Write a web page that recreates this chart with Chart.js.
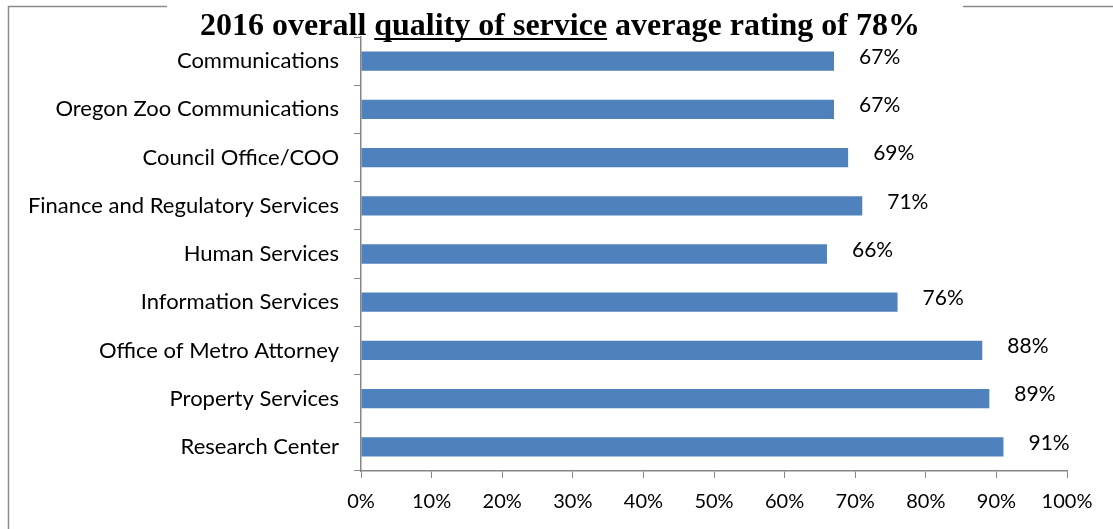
<!DOCTYPE html>
<html>
<head>
<meta charset="utf-8">
<script src="https://cdn.jsdelivr.net/npm/chart.js@4/dist/chart.umd.min.js"></script>
<style>
  html, body { margin: 0; padding: 0; background: #fff; }
  #wrap { width: 1113px; height: 529px; position: relative; }
</style>
</head>
<body>
<div id="wrap"><canvas id="chart" width="1113" height="529"></canvas></div>
<script>
const departments = [
    "Communications",
    "Oregon Zoo Communications",
    "Council Office/COO",
    "Finance and Regulatory Services",
    "Human Services",
    "Information Services",
    "Office of Metro Attorney",
    "Property Services",
    "Research Center",
];
const ratings = [67, 67, 69, 71, 66, 76, 88, 89, 91];
const xTicks = [0, 10, 20, 30, 40, 50, 60, 70, 80, 90, 100];
const titleParts = ["2016 overall ", "quality of service", " average rating of 78%"];

const AXIS_GRAY = "#868686";
const LABEL_FONT = "Lato, 'Open Sans', sans-serif";
const TITLE_FONT = "'Liberation Serif', serif";
const TITLE_WIDTH = 720;

// title with the middle phrase underlined, plus the frame lines beside it
const titlePlugin = {
    id: "titleFrame",
    afterDraw(chart) {
        const ctx = chart.ctx;
        ctx.save();
        ctx.strokeStyle = "#8c8c8c";
        ctx.lineWidth = 1.5;
        ctx.beginPath();
        ctx.moveTo(8.5, 529);
        ctx.lineTo(8.5, 6.5);
        ctx.lineTo(167, 6.5);
        ctx.moveTo(963, 6.5);
        ctx.lineTo(1113, 6.5);
        ctx.stroke();

        // size the title so the whole line spans TITLE_WIDTH
        ctx.font = "bold 20px " + TITLE_FONT;
        const base = titleParts.reduce((s, t) => s + ctx.measureText(t).width, 0);
        const size = 20 * TITLE_WIDTH / base;
        ctx.font = "bold " + size.toFixed(2) + "px " + TITLE_FONT;
        ctx.fillStyle = "#000";
        ctx.textBaseline = "alphabetic";
        const widths = titleParts.map(t => ctx.measureText(t).width);
        const total = widths.reduce((a, b) => a + b, 0);
        let x = 560 - total / 2;
        const y = 35;
        titleParts.forEach((t, i) => {
            ctx.fillText(t, x, y);
            if (i === 1) {
                ctx.fillRect(x, y + 3, widths[i], 2);
            }
            x += widths[i];
        });
        ctx.restore();
    },
};

// percentage labels to the right of each bar
const valueLabels = {
    id: "valueLabels",
    afterDatasetsDraw(chart) {
        const ctx = chart.ctx;
        const meta = chart.getDatasetMeta(0);
        ctx.save();
        ctx.font = "21px " + LABEL_FONT;
        ctx.fillStyle = "#000";
        ctx.textBaseline = "middle";
        ctx.textAlign = "left";
        meta.data.forEach((bar, i) => {
            ctx.fillText(ratings[i] + "%", bar.x + 25, bar.y - 4);
        });
        ctx.restore();
    },
};

const ctx = document.getElementById("chart").getContext("2d");
new Chart(ctx, {
    type: "bar",
    data: {
        labels: departments,
        datasets: [{
            data: ratings,
            backgroundColor: "#4F81BD",
            barPercentage: 0.4,
            categoryPercentage: 1,
        }],
    },
    options: {
        indexAxis: "y",
        responsive: false,
        animation: false,
        layout: { padding: { top: 37, right: 46, bottom: 0, left: 0 } },
        plugins: {
            legend: { display: false },
            title: { display: false },
            tooltip: { enabled: false },
        },
        scales: {
            x: {
                min: 0,
                max: 100,
                afterFit: (scale) => { scale.height = 58; },
                afterBuildTicks: (scale) => {
                    scale.ticks = xTicks.map(v => ({ value: v }));
                },
                ticks: {
                    callback: (v) => v + "%",
                    color: "#000",
                    font: { family: LABEL_FONT, size: 20 },
                    padding: 12,
                    maxRotation: 0,
                },
                grid: {
                    drawOnChartArea: false,
                    color: AXIS_GRAY,
                    tickLength: 7,
                    tickColor: AXIS_GRAY,
                },
                border: { color: AXIS_GRAY, width: 1.5 },
            },
            y: {
                afterFit: (scale) => { scale.width = 361; },
                ticks: {
                    color: "#000",
                    font: { family: LABEL_FONT, size: 22 },
                    padding: 15,
                },
                grid: {
                    offset: true,
                    drawOnChartArea: false,
                    tickLength: 7,
                    tickColor: AXIS_GRAY,
                },
                border: { color: AXIS_GRAY, width: 1.5 },
            },
        },
    },
    plugins: [titlePlugin, valueLabels],
});
</script>
</body>
</html>
